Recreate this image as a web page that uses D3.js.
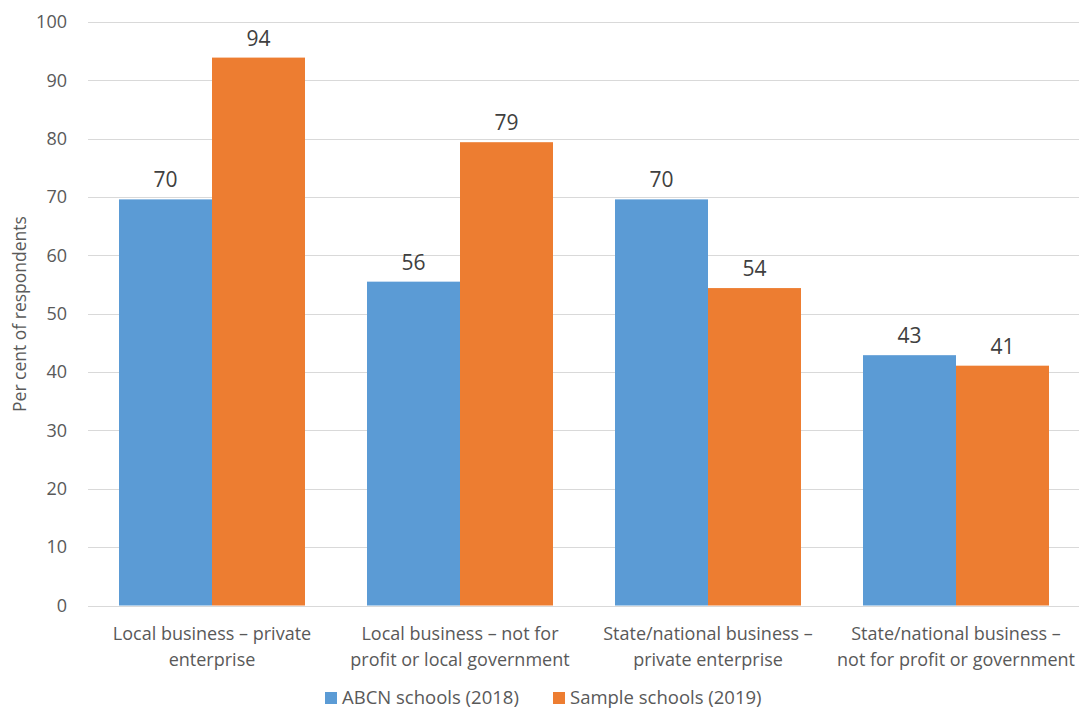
<!DOCTYPE html>
<html>
<head>
<meta charset="utf-8">
<script src="https://cdn.jsdelivr.net/npm/d3@7"></script>
<style>
  body { margin: 0; background: #fff; }
  text { font-family: "Open Sans", "Noto Sans", sans-serif; fill: #595959; }
</style>
</head>
<body>
<svg id="chart"></svg>
<script>
var categories = [
    ["Local business \u2013 private", "enterprise"],
    ["Local business \u2013 not for", "profit or local government"],
    ["State/national business \u2013", "private enterprise"],
    ["State/national business \u2013", "not for profit or government"]
];
var seriesNames = ["ABCN schools (2018)", "Sample schools (2019)"];
var abcn2018 = [69.6, 55.5, 69.6, 42.9];
var sample2019 = [93.9, 79.4, 54.4, 41.1];
var yTicks = [0, 10, 20, 30, 40, 50, 60, 70, 80, 90, 100];
var colors = ["#5B9BD5", "#ED7D31"];

var screen = {width: 1079, height: 709};
var margin = {left: 88, right: 0, top: 22, bottom: 103};

var svg = d3.select("#chart")
    .attr("width", screen.width)
    .attr("height", screen.height);

var xScale = d3.scaleBand()
    .domain(d3.range(categories.length))
    .range([margin.left, 1080]);

var inner = d3.scaleBand()
    .domain([0, 1])
    .range([0, xScale.bandwidth() * 0.75]);

var yScale = d3.scaleLinear()
    .domain([0, 100])
    .range([605.5, margin.top]);

// gridlines
svg.append("g")
    .selectAll("line")
    .data(yTicks)
    .enter()
    .append("line")
    .attr("x1", margin.left)
    .attr("x2", 1080)
    .attr("y1", function(d){ return Math.round(yScale(d)) + 0.5; })
    .attr("y2", function(d){ return Math.round(yScale(d)) + 0.5; })
    .attr("stroke", "#d9d9d9")
    .attr("stroke-width", 1);

// y tick labels
svg.append("g")
    .selectAll("text")
    .data(yTicks)
    .enter()
    .append("text")
    .attr("x", 67)
    .attr("y", function(d){ return yScale(d); })
    .attr("dy", "0.35em")
    .attr("text-anchor", "end")
    .style("font-size", "18px")
    .text(function(d){ return d; });

svg.append("text")
    .attr("transform", "translate(26," + 314 + ") rotate(-90)")
    .attr("text-anchor", "middle")
    .style("font-size", "17.5px")
    .text("Per cent of respondents");

var series = [abcn2018, sample2019];

series.forEach(function(values, s){
    var g = svg.append("g");
    g.selectAll("rect")
        .data(values)
        .enter()
        .append("rect")
        .attr("x", function(d, i){ return xScale(i) + xScale.bandwidth() * 0.125 + inner(s); })
        .attr("width", inner.bandwidth())
        .attr("y", function(d){ return yScale(d); })
        .attr("height", function(d){ return yScale(0) - yScale(d); })
        .attr("fill", colors[s]);

    g.selectAll("text")
        .data(values)
        .enter()
        .append("text")
        .attr("x", function(d, i){ return xScale(i) + xScale.bandwidth() * 0.125 + inner(s) + inner.bandwidth() / 2; })
        .attr("y", function(d){ return yScale(d) - 12; })
        .attr("text-anchor", "middle")
        .style("font-size", "21px")
        .style("fill", "#404040")
        .text(function(d){ return Math.round(d); });
});

// category labels
var catG = svg.append("g")
    .selectAll("text")
    .data(categories)
    .enter()
    .append("text")
    .attr("text-anchor", "middle")
    .style("font-size", "18px");

catG.selectAll("tspan")
    .data(function(d, i){ return d.map(function(line){ return {line: line, i: i}; }); })
    .enter()
    .append("tspan")
    .attr("x", function(d){ return xScale(d.i) + xScale.bandwidth() / 2; })
    .attr("y", function(d, j){ return 640 + j * 26; })
    .text(function(d){ return d.line; });

// legend
var legendX = [325, 553];
var legend = svg.append("g")
    .selectAll("g")
    .data(seriesNames)
    .enter()
    .append("g")
    .attr("transform", function(d, i){ return "translate(" + legendX[i] + ",692)"; });

legend.append("rect")
    .attr("width", 12)
    .attr("height", 12)
    .attr("fill", function(d, i){ return colors[i]; });

legend.append("text")
    .attr("x", 17)
    .attr("y", 6)
    .attr("dy", "0.35em")
    .style("font-size", "18.5px")
    .text(function(d){ return d; });
</script>
</body>
</html>
